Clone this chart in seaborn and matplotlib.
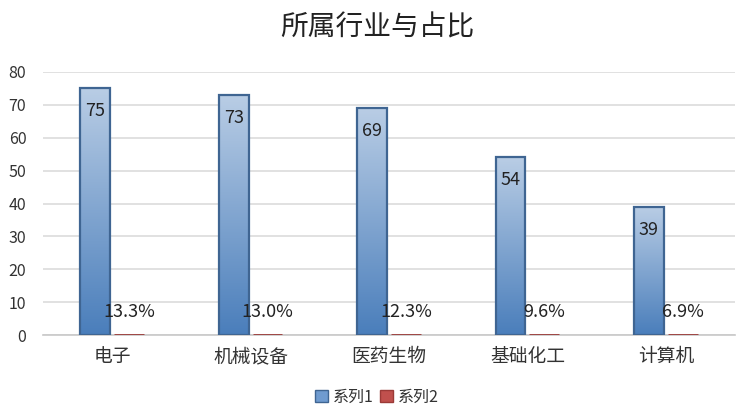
import numpy as np
import pandas as pd
import matplotlib
matplotlib.use("Agg")
import matplotlib.pyplot as plt
from matplotlib.patches import Patch
from matplotlib.colors import LinearSegmentedColormap
import seaborn as sns

# data
industries = ['电子', '机械设备', '医药生物', '基础化工', '计算机']
counts = [75, 73, 69, 54, 39]
shares = [0.133, 0.130, 0.123, 0.096, 0.069]
series_names = ['系列1', '系列2']

df = pd.DataFrame({
    'industry': industries * 2,
    'value': counts + shares,
    'series': [series_names[0]] * len(industries) + [series_names[1]] * len(industries),
})

sns.set_style("white")
plt.rcParams['font.family'] = ['Noto Sans CJK SC', 'DejaVu Sans']

fig = plt.figure(figsize=(7.54, 4.18), dpi=100)
ax = fig.add_axes([43 / 754, 1 - 335 / 418, (735 - 43) / 754, (335 - 72) / 418])

blue_edge = '#3f6592'
red_edge = '#9b3a37'
sns.barplot(data=df, x='industry', y='value', hue='series', hue_order=series_names,
            palette=['#6f9bd0', '#c0504d'], width=0.49, gap=0.12,
            legend=False, ax=ax)

blue_grad = LinearSegmentedColormap.from_list('bg', ['#4a7ebb', '#b9cde5'])
red_grad = LinearSegmentedColormap.from_list('rg', ['#c0504d', '#e6b9b8'])
grad = np.linspace(0, 1, 256).reshape(-1, 1)

for cont, cmap, edge, lw in zip(ax.containers, [blue_grad, red_grad],
                                [blue_edge, red_edge], [1.6, 2.0]):
    for bar in cont:
        x0, y0 = bar.get_x(), bar.get_y()
        w, h = bar.get_width(), bar.get_height()
        im = ax.imshow(grad, cmap=cmap, origin='lower', aspect='auto',
                       extent=[x0, x0 + w, y0, y0 + h], zorder=2)
        im.set_clip_path(bar)
        bar.set_facecolor('none')
        bar.set_edgecolor(edge)
        bar.set_linewidth(lw)
        bar.set_zorder(3)

# value labels
for bar, v in zip(ax.containers[0], counts):
    cx = bar.get_x() + bar.get_width() / 2
    ax.text(cx, v - 7, f'{v}', ha='center', va='center', fontsize=13, color='#222222', zorder=4)
for bar, v in zip(ax.containers[1], shares):
    cx = bar.get_x() + bar.get_width() / 2
    ax.text(cx, 4.3, f'{v * 100:.1f}%', ha='center', va='bottom', fontsize=13, color='#222222', zorder=4)

ax.set_xlim(-0.5, len(industries) - 0.5)
ax.set_ylim(0, 80)
ax.set_yticks(range(0, 81, 10))
ax.yaxis.grid(True, color='#d9d9d9', linewidth=1.1)
ax.set_axisbelow(True)
for s in ['top', 'right', 'left']:
    ax.spines[s].set_visible(False)
ax.spines['bottom'].set_color('#c8c8c8')
ax.spines['bottom'].set_linewidth(1.2)
ax.tick_params(axis='y', length=0, pad=12, labelsize=11.5, labelcolor='#333333')
ax.tick_params(axis='x', length=0, pad=8, labelsize=13.5, labelcolor='#333333')
ax.set_xlabel('')
ax.set_ylabel('')

fig.text(0.5, 1 - 27 / 418, '所属行业与占比', ha='center', va='center', fontsize=20,
         fontweight='medium', color='#222222')

handles = [Patch(facecolor='#6f9bd0', edgecolor=blue_edge),
           Patch(facecolor='#c0504d', edgecolor=red_edge)]
fig.legend(handles, series_names, loc='center', bbox_to_anchor=(0.5, 1 - 397 / 418),
           ncol=2, frameon=False, fontsize=11.5, handlelength=0.8, handleheight=0.8,
           handletextpad=0.3, columnspacing=0.4, labelcolor='#333333')

fig.savefig('out.png', dpi=100)
